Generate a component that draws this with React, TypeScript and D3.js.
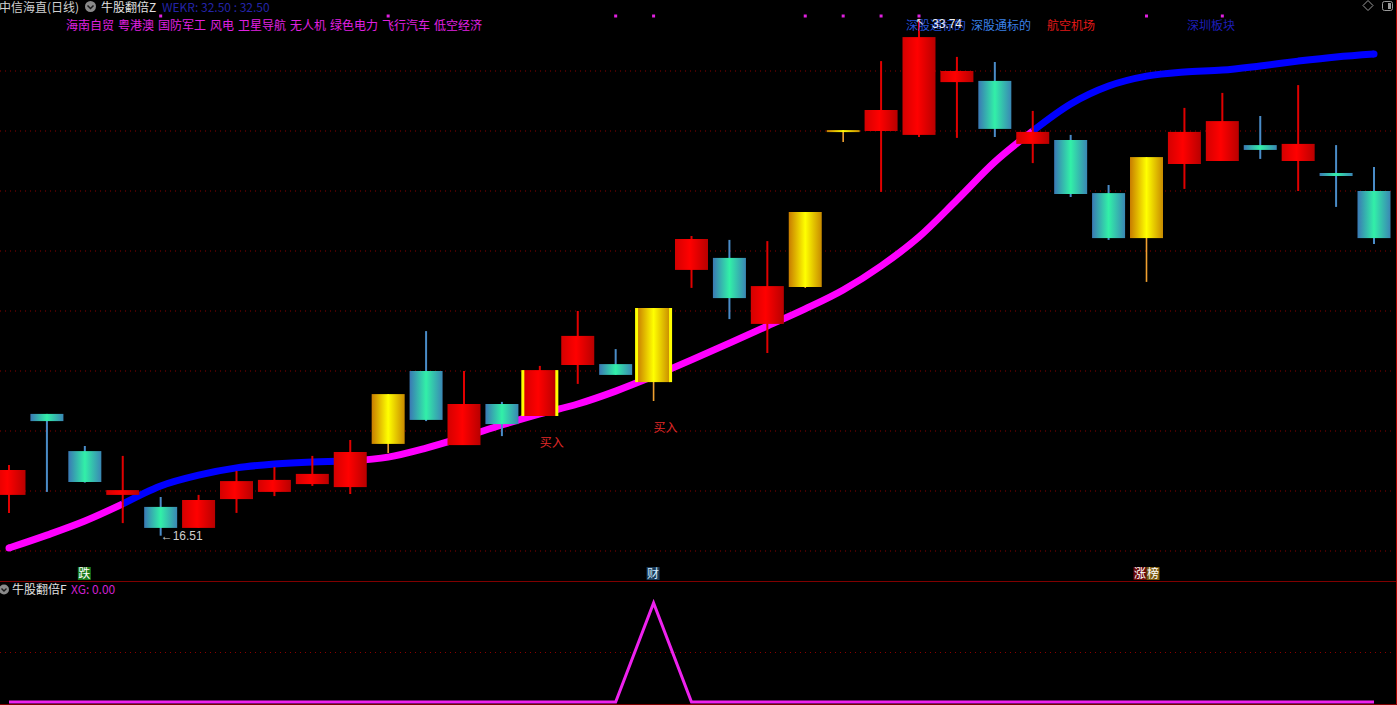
import React, { useEffect, useRef } from 'react';
import * as d3 from 'd3';

// daily candles, oldest first
const opens = [17.87, 20.57, 19.33, 17.87, 17.47, 16.77, 17.73, 17.97, 18.23, 18.13, 19.57, 22.0, 19.53, 20.9, 20.5, 22.2, 22.23, 21.63, 25.37, 25.77, 23.57, 24.8, 30.03, 30.0, 29.87, 31.63, 31.67, 29.57, 29.7, 27.93, 26.43, 28.9, 29.0, 29.53, 29.0, 28.6, 28.0];
const closes = [18.7, 20.33, 18.3, 18.03, 16.77, 17.7, 18.33, 18.37, 18.57, 19.3, 21.23, 20.37, 20.9, 20.23, 22.03, 23.17, 21.87, 24.1, 26.4, 24.43, 24.83, 27.3, 30.03, 30.7, 33.13, 32.0, 30.07, 29.97, 27.9, 26.43, 29.13, 29.97, 30.33, 29.37, 29.57, 28.5, 26.43];
const highs = [18.87, 20.57, 19.5, 19.17, 17.8, 17.87, 18.67, 18.8, 19.17, 19.7, 21.23, 23.33, 22.0, 20.97, 22.17, 24.0, 22.73, 24.1, 26.5, 26.37, 26.33, 27.3, 30.03, 32.33, 33.74, 32.47, 32.3, 30.67, 29.87, 28.2, 29.13, 30.77, 31.27, 30.5, 31.53, 29.53, 28.8];
const lows = [17.27, 17.97, 18.28, 16.93, 16.51, 16.77, 17.27, 17.83, 18.17, 17.9, 19.27, 20.33, 19.53, 19.83, 20.5, 21.57, 21.87, 21.0, 24.77, 23.73, 22.6, 24.77, 29.63, 27.97, 29.8, 29.77, 29.8, 28.93, 27.8, 26.37, 24.97, 28.07, 29.0, 29.07, 28.0, 27.47, 26.23];
// u = red, d = teal, g = gold
const kinds = ['u', 'd', 'd', 'u', 'd', 'u', 'u', 'u', 'u', 'u', 'g', 'd', 'u', 'd', 'u', 'u', 'd', 'g', 'u', 'd', 'u', 'g', 'g', 'u', 'u', 'u', 'd', 'u', 'd', 'd', 'g', 'u', 'u', 'd', 'u', 'd', 'd'];
const buyIdx = [14, 17];

const maValues = [16.1, 16.53, 17.0, 17.57, 18.17, 18.53, 18.77, 18.9, 18.97, 19.0, 19.13, 19.43, 19.8, 20.2, 20.57, 20.9, 21.33, 21.83, 22.37, 22.93, 23.5, 24.07, 24.7, 25.5, 26.47, 27.7, 28.97, 30.0, 30.9, 31.5, 31.83, 31.97, 32.03, 32.17, 32.33, 32.47, 32.57];
const maBlue = [0, 0, 0, 1, 1, 1, 1, 1, 1, 1, 0, 0, 0, 0, 0, 0, 0, 0, 0, 0, 0, 0, 0, 0, 0, 0, 0, 1, 1, 1, 1, 1, 1, 1, 1, 1, 1];

const xgValues = [0, 0, 0, 0, 0, 0, 0, 0, 0, 0, 0, 0, 0, 0, 0, 0, 0, 1, 0, 0, 0, 0, 0, 0, 0, 0, 0, 0, 0, 0, 0, 0, 0, 0, 0, 0, 0];

const dotIdx = [4, 10, 16, 17, 21, 22, 23, 24, 30, 32];
const markIdx = [2, 17, 30];
const markText = ['跌', '财', '涨榜'];

const priceTicks = [16, 18, 20, 22, 24, 26, 28, 30, 32];
const conceptWords = ['海南自贸', '粤港澳', '国防军工', '风电', '卫星导航', '无人机', '绿色电力', '飞行汽车', '低空经济'];

const FONT = '"Noto Sans CJK SC", "Microsoft YaHei", sans-serif';

const App = () => {
  const svgRef: any = useRef();

  useEffect(() => {
    const width = 1397;
    const height = 705;
    const svg = d3.select(svgRef.current);
    svg.selectAll('*').remove();

    svg.append('rect').attr('width', width).attr('height', height).attr('fill', '#000');

    const defs = svg.append('defs');
    const grad = (id: string, stops: [number, string][]) => {
      const g = defs.append('linearGradient').attr('id', id).attr('x1', 0).attr('x2', 1).attr('y1', 0).attr('y2', 0);
      stops.forEach(([o, c]) => g.append('stop').attr('offset', o).attr('stop-color', c));
    };
    grad('gRed', [[0, '#d40000'], [0.45, '#ff0000'], [1, '#b80000']]);
    grad('gTeal', [[0, '#3a78b4'], [0.5, '#32f0a8'], [1, '#3a86b4']]);
    grad('gGold', [[0, '#c87c00'], [0.5, '#ffff00'], [1, '#c88a00']]);

    const x = d3.scaleLinear().domain([0, opens.length - 1]).range([9, 1374]);
    const y = d3.scaleLinear().domain([16, 34]).range([551, 11]);
    const ySub = d3.scaleLinear().domain([0, 1]).range([702, 603]);
    const bw = 33;

    // grid
    svg.append('g').selectAll('line').data(priceTicks).join('line')
      .attr('x1', 0).attr('x2', 1394)
      .attr('y1', d => y(d)).attr('y2', d => y(d))
      .attr('stroke', '#8a0000').attr('stroke-dasharray', '1,4');
    svg.append('line').attr('x1', 0).attr('x2', 1394)
      .attr('y1', ySub(0.5)).attr('y2', ySub(0.5))
      .attr('stroke', '#8a0000').attr('stroke-dasharray', '1,4');
    svg.append('line').attr('x1', 0).attr('x2', 1397).attr('y1', 581.5).attr('y2', 581.5).attr('stroke', '#800000');
    svg.append('line').attr('x1', 1396.5).attr('x2', 1396.5).attr('y1', 0).attr('y2', height).attr('stroke', '#b00000');
    svg.append('line').attr('x1', 0).attr('x2', 1397).attr('y1', 704.5).attr('y2', 704.5).attr('stroke', '#800000');

    // moving average, coloured runs
    const idx = d3.range(maValues.length);
    const runs: { color: string; pts: number[] }[] = [];
    for (let i = 0; i < idx.length - 1; i++) {
      const c = maBlue[i] && maBlue[i + 1] ? '#0000ff' : '#ff00ff';
      if (runs.length && runs[runs.length - 1].color === c) runs[runs.length - 1].pts.push(i + 1);
      else runs.push({ color: c, pts: [i, i + 1] });
    }
    const maLine: any = d3.line<number>().x(i => x(i)).y(i => y(maValues[i])).curve(d3.curveMonotoneX);
    runs.forEach(r => {
      svg.append('path').attr('d', maLine(r.pts)).attr('fill', 'none')
        .attr('stroke', r.color).attr('stroke-width', 7);
    });
    const last = idx.length - 1;
    svg.append('circle').attr('cx', x(0)).attr('cy', y(maValues[0])).attr('r', 3.5).attr('fill', maBlue[0] ? '#0000ff' : '#ff00ff');
    svg.append('circle').attr('cx', x(last)).attr('cy', y(maValues[last])).attr('r', 3.5).attr('fill', maBlue[last] ? '#0000ff' : '#ff00ff');

    // candles
    const wickColor: any = { u: '#e00000', d: '#4a8cc8', g: '#f0a030' };
    const bodyFill: any = { u: 'url(#gRed)', d: 'url(#gTeal)', g: 'url(#gGold)' };
    const cg = svg.append('g');
    idx.forEach(i => {
      const cx = x(i);
      const k = kinds[i];
      cg.append('line').attr('x1', cx).attr('x2', cx)
        .attr('y1', y(highs[i])).attr('y2', y(lows[i]))
        .attr('stroke', wickColor[k]).attr('stroke-width', k === 'g' ? 1.6 : 2);
      const top = y(Math.max(opens[i], closes[i]));
      const h = Math.max(2, Math.abs(y(opens[i]) - y(closes[i])));
      cg.append('rect').attr('x', cx - bw / 2).attr('y', top).attr('width', bw).attr('height', h)
        .attr('fill', bodyFill[k]);
      if (buyIdx.includes(i)) {
        cg.append('rect').attr('x', cx - bw / 2 - 2).attr('y', top).attr('width', 3).attr('height', h).attr('fill', '#ffff00');
        cg.append('rect').attr('x', cx + bw / 2 - 1).attr('y', top).attr('width', 3).attr('height', h).attr('fill', '#ffff00');
      }
    });

    // buy labels
    buyIdx.forEach(i => {
      svg.append('text').attr('x', x(i)).attr('y', y(Math.min(opens[i], closes[i], lows[i])) + (i === 14 ? 31 : 31))
        .attr('fill', '#e02828').attr('font-size', 12).attr('font-family', FONT).text('买入');
    });

    // high / low labels
    const hiI = d3.maxIndex(highs);
    const loI = d3.minIndex(lows);
    svg.append('text').attr('x', x(loI)).attr('y', y(lows[loI]) + 4)
      .attr('fill', '#cfcfcf').attr('font-size', 12).attr('font-family', '"Liberation Sans", Arial')
      .text('←' + lows[loI].toFixed(2));

    // top concept dots
    svg.append('g').selectAll('rect').data(dotIdx).join('rect')
      .attr('x', d => x(d) - 1.5).attr('y', 14.5).attr('width', 3).attr('height', 3).attr('fill', '#e020e0');

    // header line 1
    const h1 = svg.append('g').attr('font-family', FONT).attr('font-size', 12);
    h1.append('text').attr('x', -1).attr('y', 12).attr('fill', '#d0d0d0').text('中信海直(日线)');
    h1.append('circle').attr('cx', 90.5).attr('cy', 6.5).attr('r', 5.5).attr('fill', '#8a8a8a');
    h1.append('path').attr('d', 'M87.5,5.5 L90.5,8.5 L93.5,5.5').attr('fill', 'none').attr('stroke', '#1a1a1a').attr('stroke-width', 1.5);
    h1.append('text').attr('x', 101).attr('y', 12).attr('fill', '#e0e0e0').text('牛股翻倍Z');
    h1.append('text').attr('x', 162).attr('y', 12).attr('fill', '#2424a8').text('WEKR: 32.50 : 32.50');

    // header line 2 concepts
    let cx0 = 66;
    conceptWords.forEach(w => {
      h1.append('text').attr('x', cx0).attr('y', 30).attr('fill', '#e020e0').text(w);
      cx0 += w.length * 12 + 4;
    });
    const rightWords: [number, string, string][] = [
      [906, '深股通标的', '#2452d8'],
      [971, '深股通标的', '#3a80e8'],
      [1047, '航空机场', '#e01818'],
      [1187, '深圳板块', '#1e1eb8'],
    ];
    rightWords.forEach(([px, t, c]) => {
      h1.append('text').attr('x', px).attr('y', 30).attr('fill', c).text(t);
    });
    svg.append('text').attr('x', x(hiI) - 3).attr('y', y(highs[hiI]) + 6)
      .attr('fill', '#e8e8e8').attr('font-size', 10).attr('font-family', '"DejaVu Sans"').text('↖');
    svg.append('text').attr('x', x(hiI) + 13).attr('y', 28)
      .attr('fill', '#eeeeee').attr('font-size', 12).attr('font-family', '"Liberation Sans", Arial')
      .text(highs[hiI].toFixed(2));

    // top-right icons
    svg.append('path').attr('d', 'M1368,0.5 L1373,5.5 L1368,10.5 L1363,5.5 Z').attr('fill', 'none').attr('stroke', '#9a9a9a');
    svg.append('rect').attr('x', 1382.5).attr('y', 1.5).attr('width', 10).attr('height', 9).attr('rx', 2).attr('fill', 'none').attr('stroke', '#9a9a9a');
    svg.append('rect').attr('x', 1388).attr('y', 3).attr('width', 3).attr('height', 6).attr('fill', '#9a9a9a');

    // bottom markers of main panel
    const bgs: any = { '跌': ['#1a7a1a'], '财': ['#1a3a58'], '涨榜': ['#6a0808', '#7a5a10'] };
    markIdx.forEach((mi, j) => {
      const t = markText[j];
      const sx = x(mi) - 7 - (t.length - 1) * 6;
      t.split('').forEach((ch, k) => {
        svg.append('rect').attr('x', sx + k * 13).attr('y', 567).attr('width', 13).attr('height', 13).attr('fill', bgs[t][k]);
        svg.append('text').attr('x', sx + k * 13 + 0.5).attr('y', 578).attr('fill', j === 1 ? '#cfe8ff' : '#ffffff')
          .attr('font-size', 12).attr('font-family', FONT).text(ch);
      });
    });

    // sub panel
    svg.append('circle').attr('cx', 4).attr('cy', 589.5).attr('r', 5).attr('fill', '#8a8a8a');
    svg.append('path').attr('d', 'M1.5,588.5 L4,591 L6.5,588.5').attr('fill', 'none').attr('stroke', '#1a1a1a').attr('stroke-width', 1.4);
    svg.append('text').attr('x', 12).attr('y', 594).attr('fill', '#e0e0e0').attr('font-size', 12).attr('font-family', FONT).text('牛股翻倍F');
    svg.append('text').attr('x', 71).attr('y', 594).attr('fill', '#d020d0').attr('font-size', 12).attr('font-family', FONT)
      .text('XG: ' + xgValues[xgValues.length - 1].toFixed(2));

    const xgLine: any = d3.line<number>().x((_, i) => x(i)).y(d => ySub(d));
    svg.append('path').attr('d', xgLine(xgValues)).attr('fill', 'none')
      .attr('stroke', '#ee22ee').attr('stroke-width', 3).attr('stroke-linejoin', 'miter');
  }, []);

  return (
    <div style={{ position: 'absolute', left: 0, top: 0, width: 1397, height: 705, overflow: 'hidden', background: '#000' }}>
      <svg ref={svgRef} width={1397} height={705} style={{ display: 'block' }}></svg>
    </div>
  );
};

export default App;
